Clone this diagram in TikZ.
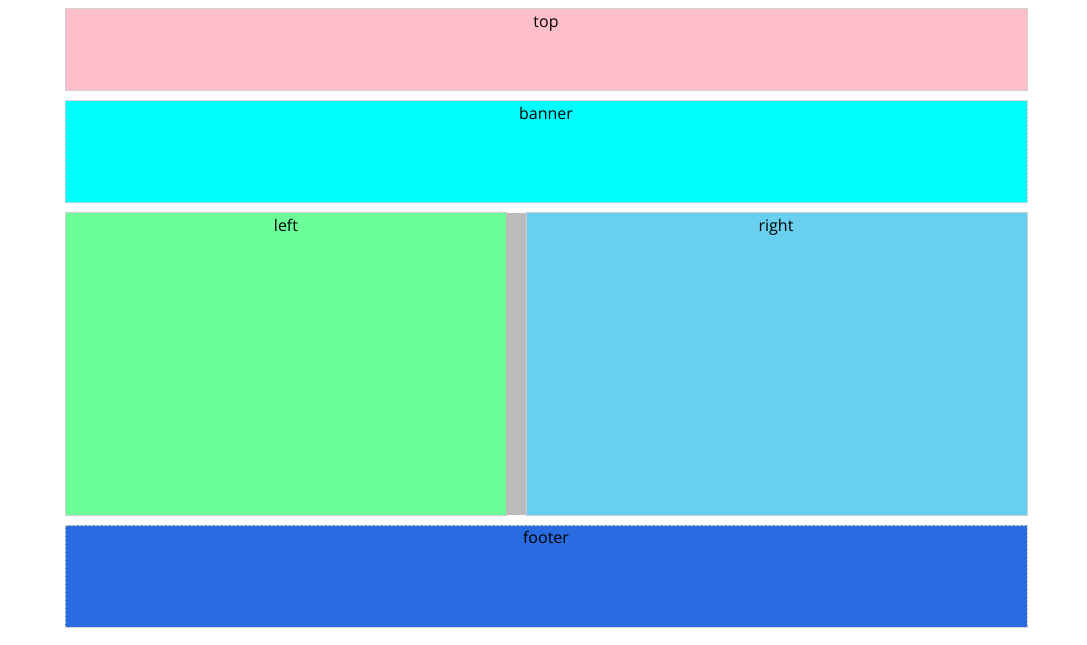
\documentclass[tikz,border=0pt]{standalone}
\usepackage{fontspec}
\setmainfont{Open Sans}
\definecolor{toppink}{HTML}{FFBFCA}
\definecolor{bancyan}{HTML}{00FFFF}
\definecolor{leftgreen}{HTML}{6CFF98}
\definecolor{rightblue}{HTML}{68CFEE}
\definecolor{splitgray}{HTML}{BBBBBB}
\definecolor{footblue}{HTML}{296BE0}
\definecolor{edgegray}{HTML}{D0D0D0}
\begin{document}
\begin{tikzpicture}[x=0.75pt,y=-0.75pt,
  panel/.style={draw=edgegray,line width=0.75pt},
  dpanel/.style={draw=white!60!gray,line width=0.75pt,dash pattern=on 2pt off 1pt},
  lbl/.style={font=\fontsize{12}{14}\selectfont,text=black,inner sep=0pt,anchor=base}]
\useasboundingbox (0,0) rectangle (1087,645);
\fill[white] (0,0) rectangle (1087,645);
% top
\path[panel,fill=toppink] (65,9) rectangle (1027,91);
\node[lbl] (top) at (546,27.5) {top};
% banner
\path[dpanel,fill=bancyan] (65,101) rectangle (1027,203);
\node[lbl] (banner) at (546,119.5) {banner};
% middle
\path[panel,fill=leftgreen] (65,213) rectangle (506,515);
\fill[splitgray] (506,213) rectangle (526,515);
\path[panel,fill=rightblue] (526,213) rectangle (1027,515);
\node[lbl] (left) at (286,231.5) {left};
\node[lbl] (right) at (776,231.5) {right};
% footer
\path[dpanel,fill=footblue] (65,525) rectangle (1027,627);
\node[lbl] (footer) at (546,543.5) {footer};
\end{tikzpicture}
\end{document}
